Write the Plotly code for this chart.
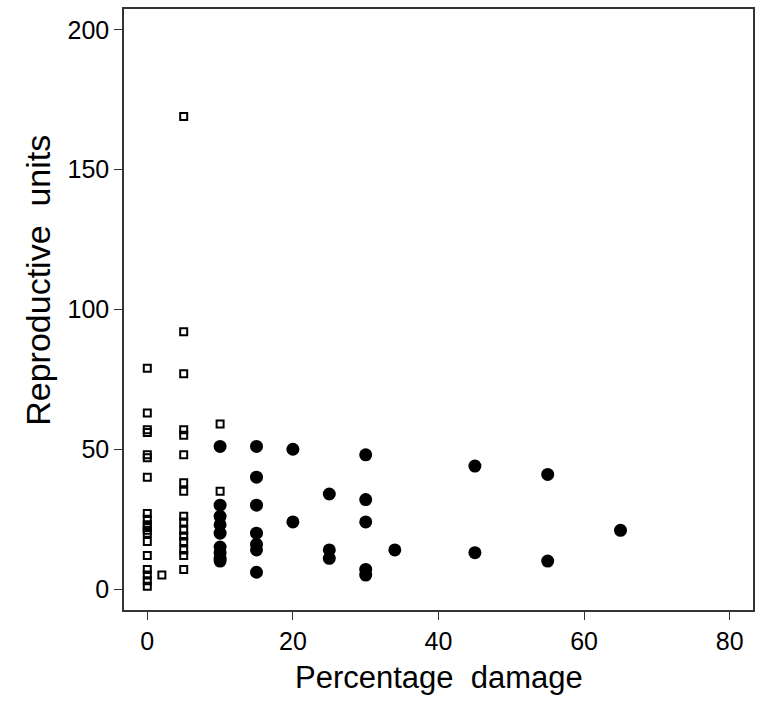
import plotly.graph_objects as go

# Undamaged-type plants (open squares)
open_damage = [0] * 19 + [2] + [5] * 16 + [10] * 2
open_units = [79, 63, 57, 56, 48, 47, 40, 27, 25, 23, 22, 21, 20, 17, 12, 7, 5, 3, 1,
              5,
              169, 92, 77, 57, 55, 48, 38, 35, 26, 24, 21, 19, 17, 14, 12, 7,
              59, 35]

# Damaged plants (filled circles)
filled_damage = ([10] * 9 + [15] * 7 + [20] * 2 + [25] * 3 + [30] * 5 + [34]
                 + [45] * 2 + [55] * 2 + [65])
filled_units = [51, 30, 26, 23, 20, 15, 13, 11, 10,
                51, 40, 30, 20, 16, 14, 6,
                50, 24,
                34, 14, 11,
                48, 32, 24, 7, 5,
                14,
                44, 13,
                41, 10,
                21]

x_ticks = [0, 20, 40, 60, 80]
y_ticks = [0, 50, 100, 150, 200]

FONT = "Liberation Sans, Arial, sans-serif"

fig = go.Figure()
fig.add_trace(go.Scatter(
    x=open_damage, y=open_units, mode="markers",
    marker=dict(symbol="square-open", size=7, color="black",
                line=dict(color="black", width=2)),
    showlegend=False,
))
fig.add_trace(go.Scatter(
    x=filled_damage, y=filled_units, mode="markers",
    marker=dict(symbol="circle", size=13, color="black", line=dict(width=0)),
    showlegend=False,
))

axis_common = dict(
    showgrid=False, zeroline=False, showline=True, mirror=True,
    linecolor="#333", linewidth=1.5,
    ticks="outside", ticklen=8, tickwidth=1, tickcolor="#333",
    tickfont=dict(family=FONT, size=25, color="black"),
)

fig.update_xaxes(range=[-3.2, 83.2], tickvals=x_ticks, **axis_common)
fig.update_yaxes(range=[-7.5, 207.5], tickvals=y_ticks, **axis_common)

fig.update_layout(
    width=762, height=701,
    margin=dict(l=124, r=8, t=7, b=91),
    paper_bgcolor="white", plot_bgcolor="white",
    annotations=[
        dict(text="Percentage  damage", xref="paper", yref="paper",
             x=0.5, y=-0.080, xanchor="center", yanchor="top", showarrow=False,
             font=dict(family=FONT, size=31, color="black")),
        dict(text="Reproductive  units", xref="paper", yref="paper",
             x=-0.1365, y=0.548, xanchor="center", yanchor="middle", textangle=-90,
             showarrow=False, font=dict(family=FONT, size=34, color="black")),
    ],
)

fig.write_html("out.html")
